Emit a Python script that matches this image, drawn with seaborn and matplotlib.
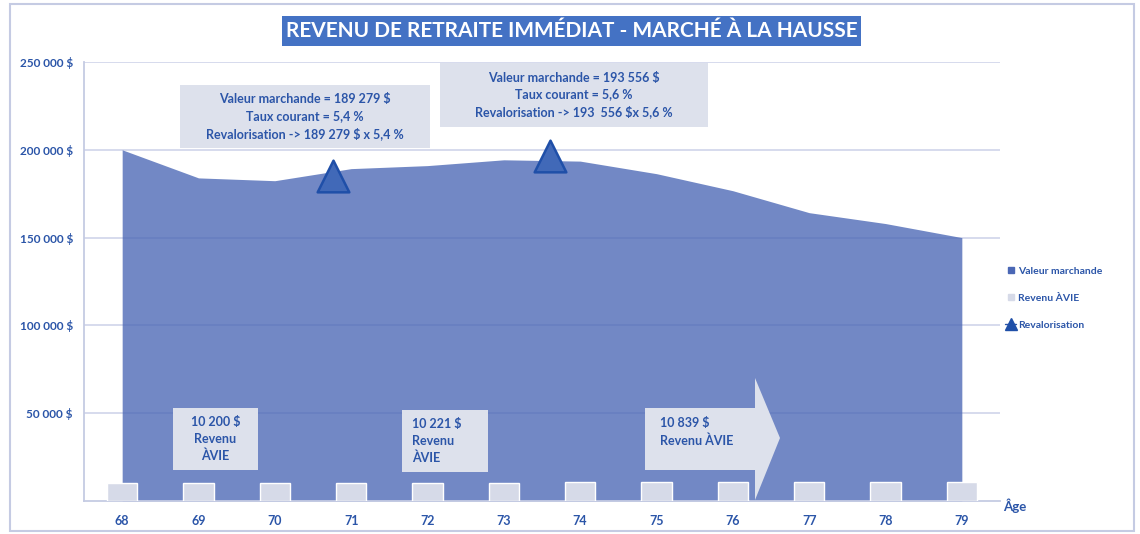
import numpy as np
import pandas as pd
import matplotlib
matplotlib.use("Agg")
import matplotlib.pyplot as plt
import matplotlib.patches as mpatches
from matplotlib.lines import Line2D
import seaborn as sns

# data
ages = [68, 69, 70, 71, 72, 73, 74, 75, 76, 77, 78, 79]
valeur = [200000, 184000, 182400, 189279, 191000, 194300, 193556, 186400, 176700, 164200, 158000, 150000]
revenu = [10200, 10200, 10200, 10221, 10221, 10221, 10839, 10839, 10839, 10839, 10839, 10839]
reval_age = [70.76, 73.6]
reval_val = [185000, 196600]
yticks = [50000, 100000, 150000, 200000, 250000]
ytick_labels = ["50 000 $", "100 000 $", "150 000 $", "200 000 $", "250 000 $"]

titre = "REVENU DE RETRAITE IMMÉDIAT - MARCHÉ À LA HAUSSE"
note1 = "Valeur marchande = 189 279 $\nTaux courant = 5,4 %\nRevalorisation -> 189 279 $ x 5,4 %"
note2 = "Valeur marchande = 193 556 $\nTaux courant = 5,6 %\nRevalorisation -> 193  556 $x 5,6 %"
rev1 = "10 200 $\nRevenu\nÀVIE"
rev2 = "10 221 $\nRevenu\nÀVIE"
rev3 = "10 839 $\nRevenu ÀVIE"

df = pd.DataFrame({"age": ages, "valeur": valeur, "revenu": revenu})

sns.set_theme(style="white")
plt.rcParams["font.family"] = ["Lato", "DejaVu Sans"]

BLEU_TXT = "#2B55A8"
GRIS_BOX = "#DDE1EC"
GRILLE = "#D3D8EC"

W, H = 1140, 534
fig = plt.figure(figsize=(W / 100, H / 100), dpi=100)
ax = fig.add_axes([84 / W, 1 - 501 / H, (1000 - 84) / W, (501 - 62) / H])

def fx(px):
    return px / W

def fy(py):
    return 1 - py / H

# area
ax.fill_between(df["age"], df["valeur"], color="#4A67B5", alpha=0.78, lw=0, zorder=2)
# bars
sns.barplot(data=df, x="age", y="revenu", native_scale=True, width=0.4,
            color="#D6DAE8", saturation=1, ax=ax, zorder=3)
# revalorisation markers
sns.scatterplot(x=reval_age, y=reval_val, marker="^", s=520, color="#4169B8",
                edgecolor="#1F4FA8", linewidth=1.8, ax=ax, zorder=5, legend=False)

ax.set_xlim(67.5, 79.5)
ax.set_ylim(0, 250000)
ax.set_yticks(yticks)
ax.set_yticklabels(ytick_labels)
ax.set_xticks(ages)
ax.set_xticklabels([str(a) for a in ages])
ax.set_xlabel("")
ax.set_ylabel("")
ax.grid(axis="y", color=GRILLE, lw=1.3, zorder=0)
ax.set_axisbelow(True)
for s in ["top", "right"]:
    ax.spines[s].set_visible(False)
for s in ["left", "bottom"]:
    ax.spines[s].set_color("#C5CBE3")
    ax.spines[s].set_linewidth(1.3)
ax.tick_params(axis="both", length=0, colors=BLEU_TXT)
ax.tick_params(axis="y", pad=8, labelsize=8.5)
ax.tick_params(axis="x", pad=10, labelsize=9)
for t in ax.get_xticklabels() + ax.get_yticklabels():
    t.set_fontweight("bold")

fig.text(fx(1003), fy(506), "Âge", color=BLEU_TXT, fontsize=9.5, fontweight="bold",
         ha="left", va="center")

# outer frame
fig.patches.append(mpatches.Rectangle((fx(10), fy(531)), fx(1134) - fx(10), fy(4) - fy(531),
                                      transform=fig.transFigure, fill=False,
                                      edgecolor="#C5CBE3", lw=1.5))

# title
fig.patches.append(mpatches.Rectangle((fx(282), fy(46)), fx(861) - fx(282), fy(16) - fy(46),
                                      transform=fig.transFigure, facecolor="#4472C4",
                                      edgecolor="none"))
fig.text(fx(572), fy(31), titre, color="white", fontsize=15, fontweight="bold",
         ha="center", va="center")

def boite(x0, y0, x1, y1, texte, ha="center", tx=None):
    fig.patches.append(mpatches.Rectangle((fx(x0), fy(y1)), fx(x1) - fx(x0), fy(y0) - fy(y1),
                                          transform=fig.transFigure, facecolor=GRIS_BOX,
                                          edgecolor="none", zorder=6))
    if tx is None:
        tx = (x0 + x1) / 2
    fig.text(fx(tx), fy((y0 + y1) / 2), texte, color=BLEU_TXT, fontsize=9,
             fontweight="bold", ha=ha, va="center", multialignment=ha,
             linespacing=1.45, zorder=7)

boite(180, 85, 430, 148, note1)
boite(440, 63, 708, 127, note2)
boite(173, 408, 258, 470, rev1)
boite(402, 410, 488, 472, rev2, ha="left", tx=412)

# big arrow
arrow = [(645, 408), (755, 408), (755, 378), (780, 438), (755, 500), (755, 470), (645, 470)]
fig.patches.append(mpatches.Polygon([(fx(x), fy(y)) for x, y in arrow], closed=True,
                                    transform=fig.transFigure, facecolor=GRIS_BOX,
                                    edgecolor="none", zorder=6))
fig.text(fx(660), fy(432), rev3, color=BLEU_TXT, fontsize=9, fontweight="bold",
         ha="left", va="center", linespacing=1.5, zorder=7)

# legend
handles = [
    Line2D([], [], ls="none", marker="s", ms=5, color="#4A67B5"),
    Line2D([], [], ls="none", marker="s", ms=5, color="#D6DAE8"),
    Line2D([], [], color="#2B55A8", lw=1, marker="^", ms=9,
           markerfacecolor="#1F4FA8", markeredgecolor="#1F4FA8"),
]
leg = fig.legend(handles, ["Valeur marchande", "Revenu ÀVIE", "Revalorisation"],
                 loc="center left", bbox_to_anchor=(fx(996), fy(298)), frameon=False,
                 fontsize=7.5, labelspacing=1.7, handlelength=1.0, handletextpad=0.2,
                 markerfirst=True)
for t in leg.get_texts():
    t.set_color(BLEU_TXT)
    t.set_fontweight("bold")

fig.savefig("out.png", dpi=100)
